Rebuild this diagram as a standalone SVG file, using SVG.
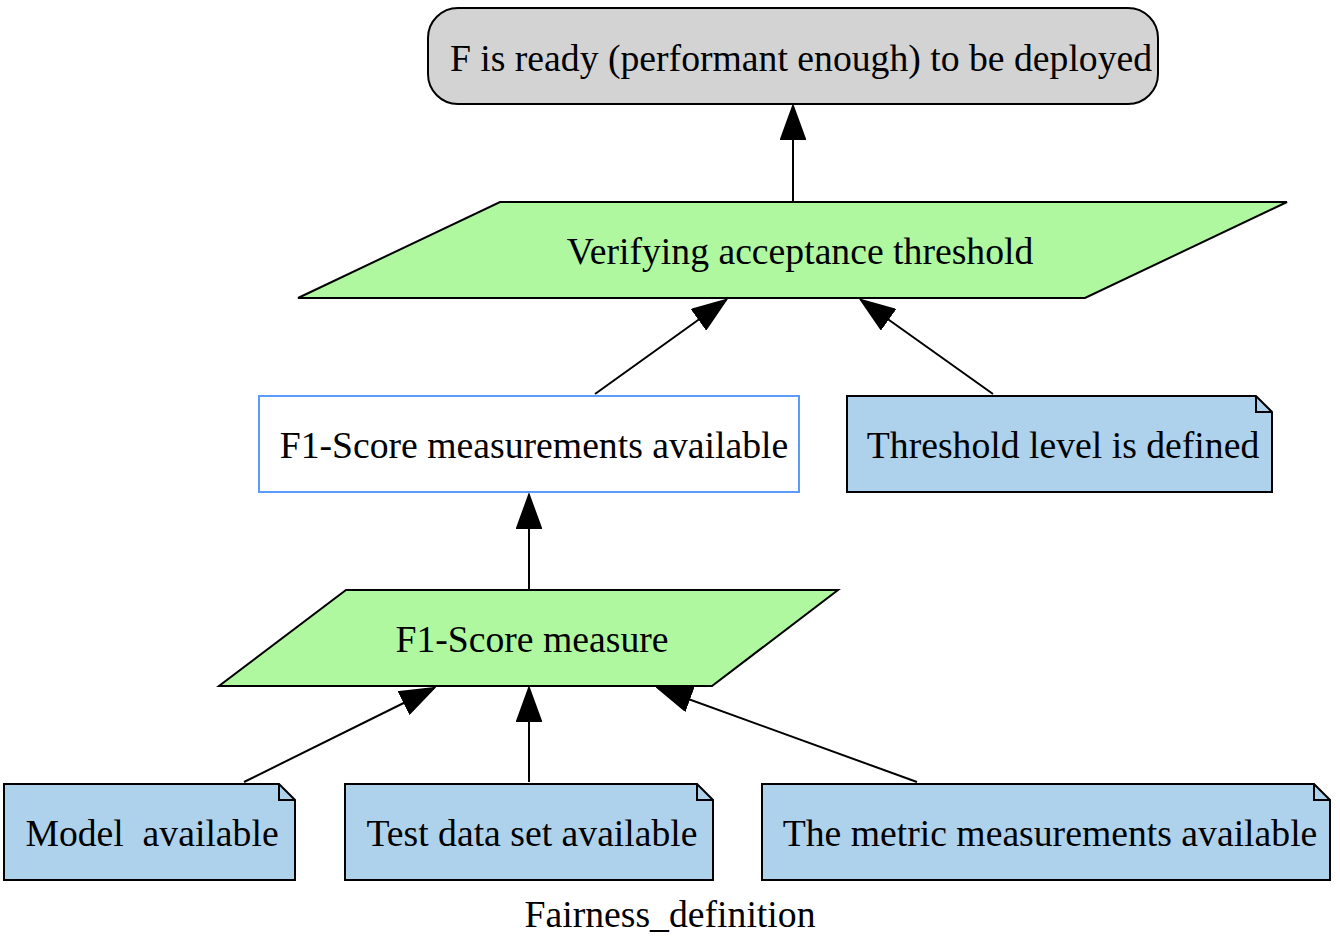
<svg xmlns="http://www.w3.org/2000/svg" width="1340" height="936" viewBox="0 0 1340 936">
<style>
text{font-family:"Liberation Serif","Times New Roman",serif;font-size:37.7px;fill:#000;text-anchor:middle}
.e{stroke:#000;stroke-width:2;fill:none}
.note{fill:#aed2ec;stroke:#000;stroke-width:2}
.para{fill:#aff8a0;stroke:#000;stroke-width:2}
</style>
<defs>
<marker id="ah" markerUnits="userSpaceOnUse" markerWidth="36" markerHeight="26" viewBox="0 0 36 26" refX="34" refY="13" orient="auto">
<path d="M1,1 L34,13 L1,25 Z" fill="#000" stroke="#000" stroke-width="2"/>
</marker>
</defs>
<rect width="1340" height="936" fill="#fff"/>
<g id="connectors">
<line class="e" x1="793" y1="202" x2="793" y2="106" marker-end="url(#ah)"/>
<line class="e" x1="595" y1="394" x2="726" y2="300" marker-end="url(#ah)"/>
<line class="e" x1="993" y1="394" x2="861" y2="300" marker-end="url(#ah)"/>
<line class="e" x1="529" y1="590" x2="529" y2="495" marker-end="url(#ah)"/>
<line class="e" x1="244" y1="782" x2="434" y2="688" marker-end="url(#ah)"/>
<line class="e" x1="529" y1="782" x2="529" y2="688" marker-end="url(#ah)"/>
<line class="e" x1="917" y1="782" x2="658" y2="688" marker-end="url(#ah)"/>
</g>
<g id="deploy">
<rect x="428" y="8" width="730" height="96" rx="30" ry="30" fill="#d3d3d3" stroke="#000" stroke-width="2"/>
<text x="801" y="71">F is ready (performant enough) to be deployed</text>
</g>
<g id="verify">
<polygon class="para" points="500,202 1287,202 1085,298 298,298"/>
<text x="800" y="264">Verifying acceptance threshold</text>
</g>
<g id="f1avail">
<rect x="259" y="396" width="540" height="96" fill="#fff" stroke="#5a9cf8" stroke-width="2"/>
<text x="534" y="458">F1-Score measurements available</text>
</g>
<g id="threshold">
<path class="note" d="M847,396 L1256,396 L1272,412 L1272,492 L847,492 Z"/>
<path class="e" d="M1256,396 L1256,412 L1272,412"/>
<text x="1063" y="458">Threshold level is defined</text>
</g>
<g id="f1measure">
<polygon class="para" points="346,590 838,590 712,686 219,686"/>
<text x="532" y="652">F1-Score measure</text>
</g>
<g id="model">
<path class="note" d="M4,784 L279,784 L295,800 L295,880 L4,880 Z"/>
<path class="e" d="M279,784 L279,800 L295,800"/>
<text x="152" y="846" xml:space="preserve">Model  available</text>
</g>
<g id="testdata">
<path class="note" d="M345,784 L697,784 L713,800 L713,880 L345,880 Z"/>
<path class="e" d="M697,784 L697,800 L713,800"/>
<text x="532" y="846">Test data set available</text>
</g>
<g id="metric">
<path class="note" d="M762,784 L1314,784 L1330,800 L1330,880 L762,880 Z"/>
<path class="e" d="M1314,784 L1314,800 L1330,800"/>
<text x="1050" y="846">The metric measurements available</text>
</g>
<text x="670" y="927">Fairness_definition</text>
</svg>
